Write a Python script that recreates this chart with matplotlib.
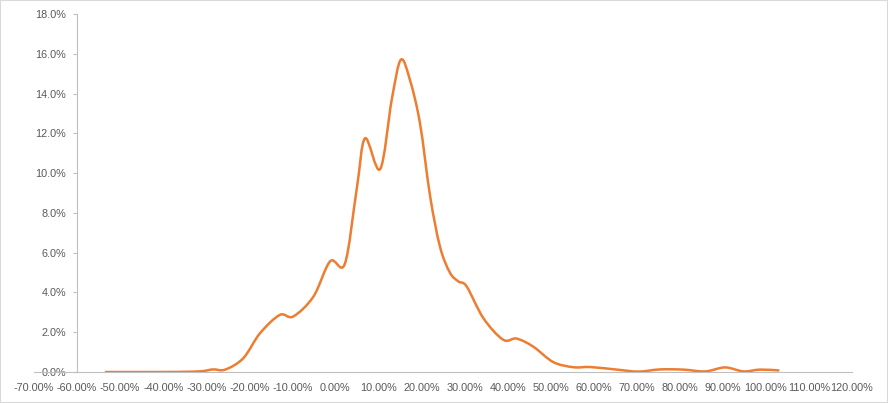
import matplotlib.pyplot as plt
from matplotlib.path import Path
from matplotlib.patches import PathPatch, Rectangle
from matplotlib.ticker import FuncFormatter, MultipleLocator

plt.rcParams['font.family'] = ['Liberation Sans', 'DejaVu Sans']

# Return bins (%) and share of observations (%)
returns = [-53.3, -45, -40, -35, -31, -28.4, -25.6, -21.4, -17.5, -12.9, -9.8,
           -5.1, -1.2, 2.2, 4.96, 6.9, 10.4, 13.1, 15.2, 17.3, 19.66,
           22.0, 24.3, 26.6, 28.6, 30.5, 34.4, 39.0, 42.1, 46.0, 50.6, 55.3,
           59.2, 65.4, 70.4, 75.4, 80.8, 85.9, 90.5, 94.8, 98.6, 102.9]
share = [0.0, 0.0, 0.0, 0.01, 0.04, 0.13, 0.12, 0.69, 1.95, 2.87, 2.79,
         3.79, 5.57, 5.44, 9.2, 11.75, 10.2, 13.7, 15.7, 14.7, 12.5,
         8.85, 6.3, 5.0, 4.55, 4.3, 2.7, 1.62, 1.68, 1.27, 0.5, 0.24,
         0.25, 0.12, 0.02, 0.13, 0.12, 0.03, 0.23, 0.03, 0.12, 0.08]

x_ticks = list(range(-70, 121, 10))
y_max = 18

grey_text = '#595959'
axis_grey = '#BFBFBF'
orange = '#ED7D31'

fig = plt.figure(figsize=(8.88, 4.03), dpi=100)
ax = fig.add_axes([34 / 888, 31 / 403, (852 - 34) / 888, (372 - 14) / 403])

# smoothed line like Excel: cubic bezier segments through the points
verts = [(returns[0], share[0])]
codes = [Path.MOVETO]
n = len(returns)
for i in range(n - 1):
    p0 = (returns[max(i - 1, 0)], share[max(i - 1, 0)])
    p1 = (returns[i], share[i])
    p2 = (returns[i + 1], share[i + 1])
    p3 = (returns[min(i + 2, n - 1)], share[min(i + 2, n - 1)])
    t = 1 / 6
    c1 = (p1[0] + (p2[0] - p0[0]) * t, p1[1] + (p2[1] - p0[1]) * t)
    c2 = (p2[0] - (p3[0] - p1[0]) * t, p2[1] - (p3[1] - p1[1]) * t)
    verts += [c1, c2, p2]
    codes += [Path.CURVE4] * 3
ax.add_patch(PathPatch(Path(verts, codes), facecolor='none', edgecolor=orange,
                       lw=1.8, capstyle='round', joinstyle='round'))

ax.set_xlim(x_ticks[0], x_ticks[-1])
ax.set_ylim(0, y_max)
ax.xaxis.set_major_locator(MultipleLocator(10))
ax.yaxis.set_major_locator(MultipleLocator(2))
ax.xaxis.set_major_formatter(FuncFormatter(lambda v, p: f'{v:.2f}%'))
ax.yaxis.set_major_formatter(FuncFormatter(lambda v, p: f'{v:.1f}%'))

for s in ['top', 'right']:
    ax.spines[s].set_visible(False)
ax.spines['left'].set_position(('data', -60))
ax.spines['left'].set_color(axis_grey)
ax.spines['bottom'].set_color(axis_grey)
ax.tick_params(axis='y', length=3, color=axis_grey, labelcolor=grey_text,
               labelsize=7.8, pad=5)
ax.tick_params(axis='x', length=0, labelcolor=grey_text, labelsize=7.8, pad=8)

fig.patches.append(Rectangle((0, 0), 1, 1, transform=fig.transFigure,
                             fill=False, edgecolor='#D9D9D9', lw=1.5))

fig.savefig('out.png', dpi=100)
